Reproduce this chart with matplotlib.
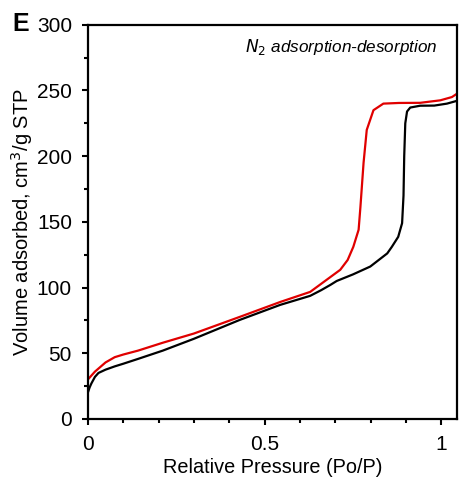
import matplotlib.pyplot as plt
from matplotlib.ticker import MultipleLocator

plt.rcParams['font.family'] = ['Liberation Sans', 'DejaVu Sans']

# adsorption branch (black)
ads_p = [0, 0.005, 0.01, 0.02, 0.03, 0.05, 0.076, 0.10, 0.142, 0.212, 0.3, 0.43,
         0.544, 0.629, 0.66, 0.686, 0.704, 0.75, 0.799, 0.847, 0.86, 0.878, 0.889,
         0.893, 0.895, 0.898, 0.903, 0.912, 0.94, 0.98, 1.016, 1.048]
ads_v = [20, 24, 27, 32, 35, 37.5, 40, 42, 45.7, 52, 61, 75.4,
         86.8, 93.7, 98, 102, 105, 110, 116, 126, 131, 138.6, 149,
         170, 200, 225, 234, 237, 238.4, 238.5, 240, 242.4]

# desorption branch (red)
des_p = [0, 0.02, 0.05, 0.076, 0.10, 0.142, 0.212, 0.3, 0.43, 0.544, 0.629,
         0.676, 0.714, 0.735, 0.751, 0.766, 0.771, 0.78, 0.789, 0.808, 0.836, 0.88,
         0.94, 0.997, 1.03, 1.044]
des_v = [30, 36, 43, 47, 49, 52, 58, 65, 77.7, 89, 96.7,
         106, 113.5, 121, 131, 144, 161, 195, 220, 235, 240, 240.5,
         240.6, 242.5, 245, 247.5]

fig = plt.figure(figsize=(4.6, 4.86), dpi=100)
ax = fig.add_axes([0.191, 0.138, 0.803, 0.811])

ax.plot(ads_p, ads_v, color='black', lw=1.6)
ax.plot(des_p, des_v, color='#e00000', lw=1.6)

ax.set_xlim(0, 1.045)
ax.set_ylim(0, 300)
ax.xaxis.set_major_locator(MultipleLocator(0.5))
ax.xaxis.set_minor_locator(MultipleLocator(0.1))
ax.yaxis.set_major_locator(MultipleLocator(50))
ax.yaxis.set_minor_locator(MultipleLocator(25))
ax.xaxis.set_major_formatter(plt.FuncFormatter(lambda v, p: '%g' % v))

for s in ax.spines.values():
    s.set_linewidth(1.6)
ax.tick_params(which='major', direction='out', length=4.5, width=1.5, labelsize=15,
               colors='black', pad=7)
ax.tick_params(which='minor', direction='out', length=3, width=1.5)

ax.set_xlabel('Relative Pressure (Po/P)', fontsize=14.3, va='center')
ax.set_ylabel('Volume adsorbed, cm$^3$/g STP', fontsize=14.5, va='center')
ax.xaxis.set_label_coords(0.5, -0.124)
ax.yaxis.set_label_coords(-0.179, 0.5)

ax.text(0.686, 0.944, '$N_2$ adsorption-desorption', transform=ax.transAxes,
        ha='center', va='center', fontsize=12.3, style='italic')
fig.text(0.026, 0.951, 'E', fontsize=18, fontweight='bold', va='center')

fig.savefig('out.png', dpi=100)
